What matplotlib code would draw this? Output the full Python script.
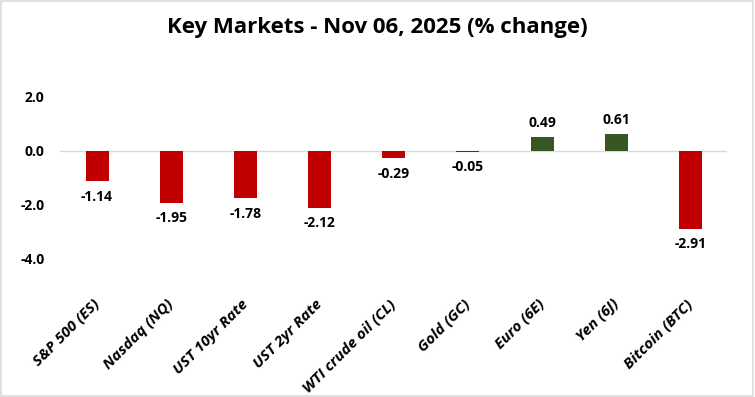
import numpy as np
import matplotlib
matplotlib.use('Agg')
import matplotlib.pyplot as plt
from matplotlib.patches import Rectangle
from matplotlib.transforms import ScaledTranslation

categories = ['S&P 500 (ES)', 'Nasdaq (NQ)', 'UST 10yr Rate', 'UST 2yr Rate',
              'WTI crude oil (CL)', 'Gold (GC)', 'Euro (6E)', 'Yen (6J)', 'Bitcoin (BTC)']
changes = [-1.14, -1.95, -1.78, -2.12, -0.29, -0.05, 0.49, 0.61, -2.91]
y_ticks = [2.0, 0.0, -2.0, -4.0]

plt.rcParams['font.family'] = ['Open Sans', 'DejaVu Sans']

fig = plt.figure(figsize=(7.55, 3.97), dpi=100)
ax = fig.add_axes([0.0795, 0.350, 0.884, 0.406])

x = np.arange(len(categories))
colors = ['#C00000' if v < 0 else '#375623' for v in changes]
ax.bar(x, changes, width=0.31, color=colors, zorder=2)
ax.axhline(0, color='#D9D9D9', linewidth=1, zorder=1)

for xi, v in zip(x, changes):
    if v < 0:
        ax.annotate(f'{v:.2f}', (xi, v), xytext=(0, -6), textcoords='offset points',
                    ha='center', va='top', fontsize=10, fontweight='bold')
    else:
        ax.annotate(f'{v:.2f}', (xi, v), xytext=(0, 5), textcoords='offset points',
                    ha='center', va='bottom', fontsize=10, fontweight='bold')

ax.set_xlim(-0.5, len(categories) - 0.5)
ax.set_ylim(-4, 2)
ax.set_yticks(y_ticks)
ax.set_yticklabels([f'{t:.1f}' for t in y_ticks], fontsize=10, fontweight='bold')
ax.set_xticks(x)
ax.set_xticklabels(categories, rotation=45, ha='right', fontsize=11,
                   fontweight='bold', fontstyle='italic')
ax.tick_params(axis='y', length=0, pad=11)
ax.tick_params(axis='x', length=0, pad=28)
for lbl in ax.get_xticklabels():
    lbl.set_transform(lbl.get_transform() + ScaledTranslation(5 / 100, 0, fig.dpi_scale_trans))
for s in ax.spines.values():
    s.set_visible(False)

fig.text(0.5, 1 - 27 / 397, 'Key Markets - Nov 06, 2025 (% change)', ha='center', va='center',
         fontsize=16, fontweight='bold')
fig.patches.append(Rectangle((0.001, 0.002), 0.997, 0.996, transform=fig.transFigure,
                             fill=False, edgecolor='#D9D9D9', linewidth=1.2))

plt.savefig('out.png', dpi=100)
